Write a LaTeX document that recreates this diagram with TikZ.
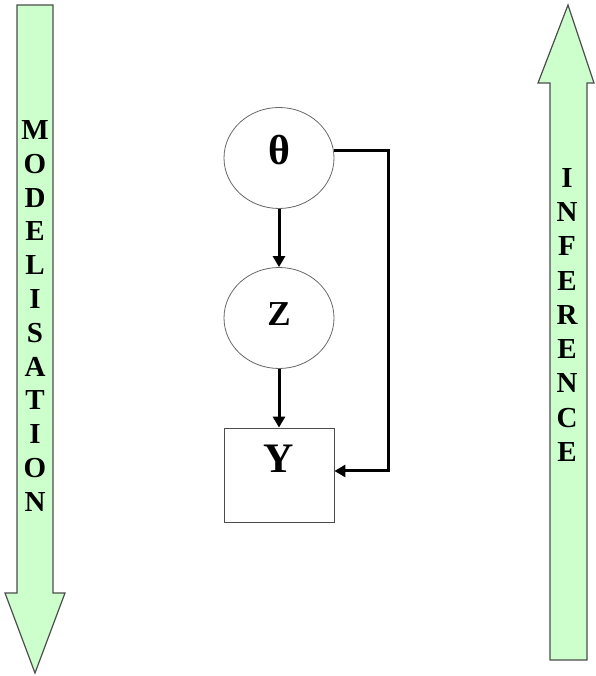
\documentclass[tikz,border=0pt]{standalone}
\usepackage{fontspec}
\setmainfont{Liberation Serif}
\usetikzlibrary{arrows.meta, shapes, positioning}

\begin{document}
\begin{tikzpicture}[x=1pt, y=1pt, node distance=160pt, auto,
	var/.style={ellipse, draw=black!60, line width=0.8pt, minimum width=110pt, minimum height=101pt, inner sep=0pt},
	obs/.style={rectangle, draw=black!70, line width=0.9pt, minimum width=110pt, minimum height=94pt, inner sep=0pt},
	link/.style={-{Triangle[length=11pt, width=12pt]}, line width=3pt},
	bigarrow/.style={fill=green!20, draw=black!70, line width=1.2pt},
	column/.style={align=center, inner sep=0pt}]
	\useasboundingbox (0,0) rectangle (595,676);
	% the two big arrows
	\draw[bigarrow] (17,671) -- (53,671) -- (53,83) -- (65,83) -- (35,3) -- (5,83) -- (17,83) -- cycle;
	\draw[bigarrow] (568,671) -- (594,593) -- (587,593) -- (587,16) -- (550,16) -- (550,593) -- (538,593) -- cycle;
	\node[column, font=\bfseries\fontsize{29}{33.8}\selectfont] (modl) at (35,360) {M\\O\\D\\E\\L\\I\\S\\A\\T\\I\\O\\N};
	\node[column, font=\bfseries\fontsize{29}{34.25}\selectfont] (infl) at (567,361) {I\\N\\F\\E\\R\\E\\N\\C\\E};
	% the model
	\node[var, font=\bfseries\fontsize{42}{48}\selectfont, text height=28pt, text depth=15pt] (theta) at (279,518) {θ};
	\node[var, font=\bfseries\fontsize{35}{40}\selectfont, text height=23pt, text depth=8pt] (z) [below of=theta] {Z};
	\node[obs, font=\bfseries\fontsize{42}{48}\selectfont, text height=28pt, text depth=32pt] (y) [below of=z, node distance=157pt] {Y};

	\draw[link] (theta) -- (z);
	\draw[link] (z) -- (y);
	\draw[link] ([yshift=7pt]theta.east) -- ++(54,0) |- ([yshift=4pt]y.east);
\end{tikzpicture}
\end{document}
